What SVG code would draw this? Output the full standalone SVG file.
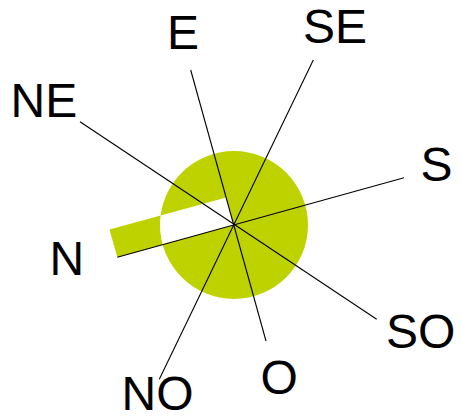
<svg xmlns="http://www.w3.org/2000/svg" width="462" height="417" viewBox="0 0 462 417">
<style>
.lbl{font-family:"Liberation Sans",Arial,sans-serif;font-size:48px;fill:#000}
.ray{stroke:#000;stroke-width:1.1;fill:none}
</style>
<rect width="462" height="417" fill="#fff"/>
<g id="rose">
<path fill="#bed200" fill-rule="evenodd" d="M160,225 a74,74 0 1,0 148,0 a74,74 0 1,0 -148,0 Z M117.3,257.3 L109.5,229.5 L226.3,197.5 L234,225 Z"/>
</g>
<g id="connectors">
<line class="ray" x1="190.7" y1="70" x2="266" y2="341"/>
<line class="ray" x1="313.3" y1="60" x2="159.3" y2="379.3"/>
<line class="ray" x1="80" y1="121.7" x2="376.7" y2="319.3"/>
<line class="ray" x1="117.3" y1="257.3" x2="404" y2="177.7"/>
</g>
<g id="label-E"><text class="lbl" x="167" y="49">E</text></g>
<g id="label-SE"><text class="lbl" x="303" y="43">SE</text></g>
<g id="label-NE"><text class="lbl" x="10.5" y="117">NE</text></g>
<g id="label-N"><text class="lbl" x="49.5" y="275">N</text></g>
<g id="label-S"><text class="lbl" x="420.5" y="181">S</text></g>
<g id="label-SO"><text class="lbl" x="386" y="348">SO</text></g>
<g id="label-NO"><text class="lbl" x="121.5" y="410">NO</text></g>
<g id="label-O"><text class="lbl" x="260.5" y="394">O</text></g>
</svg>
